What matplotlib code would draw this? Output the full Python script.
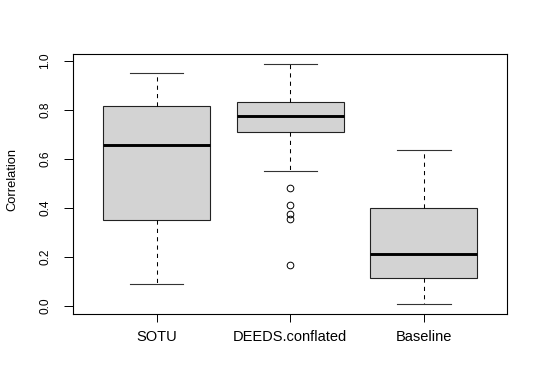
import matplotlib
matplotlib.use("Agg")
import matplotlib.pyplot as plt

plt.rcParams['font.family'] = ['Liberation Sans', 'DejaVu Sans']

categories = ["SOTU", "DEEDS.conflated", "Baseline"]
whis_low = [0.090, 0.551, 0.006]
q1 = [0.350, 0.710, 0.114]
median = [0.657, 0.776, 0.211]
q3 = [0.815, 0.833, 0.399]
whis_high = [0.950, 0.987, 0.636]
outliers = [[], [0.480, 0.410, 0.373, 0.353, 0.166], []]
y_ticks = [0.0, 0.2, 0.4, 0.6, 0.8, 1.0]
y_label = "Correlation"

stats = []
for i, name in enumerate(categories):
    stats.append(dict(label=name, whislo=whis_low[i], q1=q1[i], med=median[i],
                      q3=q3[i], whishi=whis_high[i], fliers=outliers[i]))

W, H, DPI = 545, 382, 100
fig = plt.figure(figsize=(W / DPI, H / DPI), dpi=DPI)
ax = fig.add_axes([73.3 / W, (H - 314) / H, 434 / W, 259.7 / H])

positions = list(range(1, len(categories) + 1))
ax.bxp(stats, positions=positions, widths=0.8, patch_artist=True,
       capwidths=0.4, manage_ticks=False,
       boxprops=dict(facecolor='#D3D3D3', edgecolor='#222222', linewidth=0.8),
       medianprops=dict(color='black', linewidth=2.1, solid_capstyle='butt'),
       whiskerprops=dict(color='black', linewidth=0.75, linestyle=(0, (4, 4))),
       capprops=dict(color='#333333', linewidth=0.8),
       flierprops=dict(marker='o', markerfacecolor='none', markeredgecolor='black',
                       markersize=4.8, markeredgewidth=0.7, linestyle='none'))

ax.set_xlim(0.376, 3.624)
ax.set_ylim(-0.034, 1.026)

ax.set_xticks(positions)
ax.set_xticklabels(categories, fontsize=10.5)
ax.set_yticks(y_ticks)
ax.set_yticklabels([f"{v:.1f}" for v in y_ticks], fontsize=8.6, rotation=90,
                   va='center')
ax.tick_params(axis='y', length=6.5, width=0.7, pad=9.5, direction='out')
ax.tick_params(axis='x', length=5.5, width=0.7, pad=6, direction='out')
for s in ax.spines.values():
    s.set_linewidth(0.8)
    s.set_color('black')

fig.text(12 / W, 1 - 180 / H, y_label, rotation=90, fontsize=9.3,
         ha='center', va='center')

fig.savefig("out.png", dpi=DPI)
